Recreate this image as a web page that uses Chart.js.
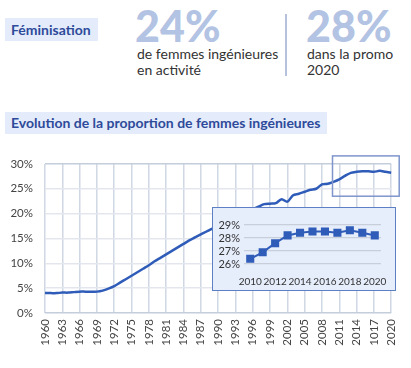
<!DOCTYPE html>
<html>
<head>
<meta charset="utf-8">
<script src="https://cdn.jsdelivr.net/npm/chart.js@4.4.0/dist/chart.umd.min.js"></script>
<style>
  body { margin: 0; width: 411px; height: 368px; background: #fff; font-family: Lato, sans-serif; position: relative; overflow: hidden; }
  .tag { position: absolute; background: #e4ecfb; color: #2e4a9a; font-weight: bold; padding: 0 7px 0 6px; }
  .big { position: absolute; color: #b3c3e3; font-weight: 900; font-size: 43px; line-height: 43px; }
  .sub { position: absolute; color: #333; font-size: 14px; line-height: 15.5px; }
  .sep { position: absolute; left: 285px; top: 14px; width: 1.5px; height: 62px; background: #b6c2dc; }
  #mainWrap { position: absolute; left: 0; top: 145px; width: 411px; height: 223px; }
  #insetWrap { position: absolute; left: 212px; top: 207px; width: 182px; height: 82px; background: #e6edfb; border: 1.5px solid #5e7fc6; }
</style>
</head>
<body>
<div class="tag" style="left:5px; top:18px; height:23px; line-height:23px; font-size:14px;">Féminisation</div>
<div class="big" style="left:135px; top:4px;">24%</div>
<div class="sub" style="left:137px; top:46px;">de femmes ingénieures<br>en activité</div>
<div class="sep"></div>
<div class="big" style="left:306px; top:4px;">28%</div>
<div class="sub" style="left:307px; top:46px;">dans la promo<br>2020</div>
<div class="tag" style="left:5px; top:112px; height:22px; line-height:22px; font-size:14px;">Evolution de la proportion de femmes ingénieures</div>

<div id="mainWrap"><canvas id="mainChart"></canvas></div>
<div id="insetWrap"><canvas id="insetChart"></canvas></div>

<script>
// Proportion de femmes ingénieures (%), 1960 - 2020
const years = [];
for (let y = 1960; y <= 2020; y++) years.push(String(y));
const share = [
  4.0, 4.0, 4.0, 4.1, 4.1, 4.2, 4.3, 4.3, 4.3, 4.3,
  4.5, 4.9, 5.4, 6.1, 6.8, 7.5, 8.2, 8.9, 9.6, 10.4,
  11.1, 11.8, 12.5, 13.2, 13.9, 14.6, 15.2, 15.8, 16.4, 17.0,
  17.5, 18.1, 18.7, 19.2, 19.8, 20.4, 20.9, 21.4, 21.9, 22.0,
  22.1, 22.9, 22.4, 23.7, 24.0, 24.4, 24.8, 25.0, 25.9, 26.0,
  26.4, 26.9, 27.6, 28.2, 28.4, 28.5, 28.5, 28.4, 28.6, 28.4,
  28.2
];
// tick labels as printed on the original (including its "1017")
const xTickLabels = ['1960', '1963', '1966', '1969', '1972', '1975', '1978', '1981', '1984', '1987',
  '1990', '1993', '1996', '1999', '2002', '2005', '2008', '2011', '2014', '1017', '2020'];

// zoom on the last decade
const zoomYears = ['2010', '2011', '2012', '2013', '2014', '2015', '2016', '2017', '2018', '2019', '2020'];
const zoomShare = [26.4, 26.9, 27.6, 28.2, 28.4, 28.5, 28.5, 28.4, 28.6, 28.4, 28.2];

const blue = '#2f5cb8';
const tickFont = { family: 'Lato', size: 11.5 };

// frame around 2010-2020 in the main chart
const zoomFrame = {
  id: 'zoomFrame',
  afterDatasetsDraw(chart) {
    const { ctx, scales: { x, y } } = chart;
    const left = x.getPixelForValue(years.indexOf(zoomYears[0])) - 1;
    const right = x.getPixelForValue(years.indexOf(zoomYears[zoomYears.length - 1])) + 8;
    const top = y.getPixelForValue(30) - 8;
    const bottom = y.getPixelForValue(23.5);
    ctx.save();
    ctx.strokeStyle = '#7f95cc';
    ctx.lineWidth = 1.5;
    ctx.strokeRect(left, top, right - left, bottom - top);
    ctx.restore();
  }
};

new Chart(document.getElementById('mainChart'), {
  type: 'line',
  data: {
    labels: years,
    datasets: [{
      data: share,
      borderColor: blue,
      borderWidth: 2.5,
      pointRadius: 0,
      tension: 0.3
    }]
  },
  options: {
    responsive: true,
    maintainAspectRatio: false,
    animation: false,
    layout: { padding: { top: 10, right: 19, bottom: 0, left: 0 } },
    plugins: { legend: { display: false }, tooltip: { enabled: false } },
    scales: {
      x: {
        offset: false,
        border: { display: false },
        grid: { color: '#d0d8e4', lineWidth: 1.5, drawTicks: false },
        ticks: {
          autoSkip: false,
          maxRotation: 90,
          minRotation: 90,
          padding: 6,
          color: '#444',
          font: tickFont,
          callback: (v, i) => (i % 3 === 0 ? xTickLabels[i / 3] : null)
        },
        afterFit: s => { s.height = 55; }
      },
      y: {
        min: 0,
        max: 30,
        border: { display: false },
        grid: {
          drawTicks: false,
          lineWidth: 1.5,
          color: c => (c.tick.value === 0 || c.tick.value === 30 ? '#c3cddb' : '#e3e7ed')
        },
        ticks: { stepSize: 5, padding: 12, color: '#444', font: tickFont, callback: v => v + '%' },
        afterFit: s => { s.width = 45; }
      }
    }
  },
  plugins: [zoomFrame]
});

new Chart(document.getElementById('insetChart'), {
  type: 'line',
  data: {
    labels: zoomYears,
    datasets: [{
      data: zoomShare,
      borderColor: blue,
      backgroundColor: blue,
      borderWidth: 2,
      pointStyle: 'rect',
      pointRadius: 4.3,
      tension: 0
    }]
  },
  options: {
    responsive: true,
    maintainAspectRatio: false,
    animation: false,
    layout: { padding: { top: 17, right: 14, bottom: 0, left: 0 } },
    plugins: { legend: { display: false }, tooltip: { enabled: false } },
    scales: {
      x: {
        offset: true,
        border: { display: false },
        grid: { display: false },
        ticks: {
          autoSkip: false,
          maxRotation: 0,
          padding: 4,
          color: '#333',
          font: { family: 'Lato', size: 10 },
          callback: (v, i) => (i % 2 === 0 ? zoomYears[i] : null)
        },
        afterFit: s => { s.height = 26; }
      },
      y: {
        min: 26,
        max: 29,
        border: { display: false },
        grid: { color: '#c8cfdb', lineWidth: 1.2, drawTicks: false },
        ticks: { autoSkip: false, stepSize: 1, padding: 4, color: '#333', font: { family: 'Lato', size: 11 }, callback: v => v + '%' },
        afterFit: s => { s.width = 31; }
      }
    }
  }
});
</script>
</body>
</html>
